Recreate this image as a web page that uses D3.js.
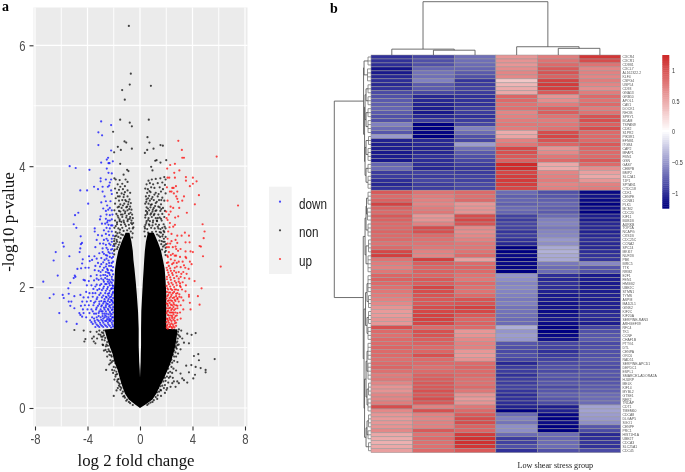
<!DOCTYPE html>
<html><head><meta charset="utf-8">
<script src="https://cdnjs.cloudflare.com/ajax/libs/d3/7.8.5/d3.min.js"></script>
<style>html,body{margin:0;background:#fff}svg{display:block;filter:blur(0.4px)}</style>
</head><body><svg id="c" width="685" height="472"></svg>
<script>
// ---------- panel a data: [log2 fold change, -log10 p]
const xTicks=[-8,-4,0,4,8], xMinor=[-6,-2,2,6], yTicks=[0,2,4,6], yMinor=[1,3,5];
const legendLabels=["down","non","up"];
// silhouette of the solid black cloud
const massY=[0,.06,.14,.24,.36,.5,.63,.76,.9,1.04,1.18,1.3,1.31,1.6,1.9,2.1,2.3,2.45,2.6,2.75,2.9];
const massLeftOuter=[0,-.4,-.85,-1.15,-1.35,-1.55,-1.7,-1.95,-2.1,-2.35,-2.55,-2.7,-2.0,-2.0,-2.0,-1.95,-1.9,-1.8,-1.65,-1.4,-1.1];
const massLeftInner=[0,0,0,0,0,0,-.02,-.06,-.08,-.1,-.1,-.1,-.1,-.15,-.25,-.33,-.42,-.5,-.55,-.65,-.8];
const massRightOuter=[0,.45,.95,1.25,1.5,1.85,2.1,2.35,2.55,2.7,2.8,2.85,2.0,2.0,2.0,1.95,1.88,1.75,1.6,1.35,1.05];
const massRightInner=[0,0,0,0,0,0,.02,.05,.06,.08,.08,.08,.08,.1,.17,.22,.28,.32,.37,.45,.6];
const downPoints=[[-2.96,4.74],[-2.2,4.68],[-3.17,4.56],[-2.89,4.51],[-3.17,4.35],[-2.2,4.26],[-2.43,4.14],[-2.53,4.11],[-2.96,4.06],[-2.4,4.05],[-2.32,4.05],[-2.07,4.08],[-5.36,4.0],[-4.9,3.97],[-3.85,3.94],[-2.53,3.96],[-2.4,3.89],[-2.15,3.88],[-3.0,3.8],[-3.0,3.75],[-2.6,3.78],[-2.2,3.78],[-2.3,3.73],[-2.45,3.66],[-2.35,3.68],[-3.5,3.66],[-3.2,3.62],[-4.55,3.6],[-4.03,3.6],[-2.85,3.66],[-2.85,3.58],[-2.2,3.6],[-2.15,3.54],[-2.7,3.5],[-3.95,3.38],[-2.95,3.4],[-2.6,3.42],[-2.25,3.42],[-2.5,3.35],[-2.3,3.31],[-2.8,3.3],[-2.42,3.28],[-2.15,3.27],[-2.6,3.26],[-4.7,3.23],[-4.95,3.19],[-2.55,3.2],[-2.3,3.19],[-2.1,3.2],[-3.0,3.17],[-3.05,3.12],[-2.6,3.13],[-2.45,3.1],[-2.3,3.1],[-2.15,3.12],[-5.05,3.04],[-4.85,2.98],[-3.45,2.97],[-3.45,2.92],[-2.9,3.05],[-2.65,3.05],[-2.4,3.03],[-2.1,3.02],[-2.55,2.98],[-2.3,2.97],[-2.75,2.94],[-2.15,2.92],[-4.52,2.84],[-5.89,2.73],[-5.81,2.67],[-4.42,2.73],[-4.5,2.71],[-4.55,2.64],[-4.6,2.58],[-3.2,2.86],[-2.9,2.85],[-2.6,2.88],[-2.35,2.86],[-3.3,2.78],[-2.75,2.78],[-2.45,2.77],[-2.15,2.8],[-3.05,2.72],[-2.6,2.7],[-2.25,2.7],[-3.4,2.66],[-2.85,2.64],[-2.45,2.62],[-2.1,2.63],[-6.42,2.58],[-6.58,2.44],[-5.38,2.51],[-4.36,2.46],[-4.41,2.39],[-3.88,2.51],[-3.65,2.45],[-3.83,2.43],[-3.47,2.51],[-3.1,2.56],[-2.75,2.55],[-2.3,2.56],[-3.3,2.47],[-2.95,2.48],[-2.55,2.47],[-2.15,2.48],[-3.2,2.4],[-2.8,2.41],[-2.35,2.4],[-3.4,2.35],[-3.05,2.34],[-2.6,2.34],[-2.2,2.35],[-4.77,2.3],[-4.49,2.31],[-4.16,2.32],[-3.91,2.32],[-3.45,2.28],[-3.15,2.27],[-2.85,2.28],[-2.45,2.28],[-2.1,2.27],[-6.27,2.19],[-7.37,2.09],[-4.97,2.19],[-5.05,2.15],[-4.92,2.17],[-4.3,2.12],[-4.2,2.11],[-3.75,2.18],[-3.3,2.2],[-3.0,2.19],[-2.65,2.2],[-2.3,2.2],[-3.9,2.1],[-3.5,2.11],[-3.15,2.12],[-2.8,2.12],[-2.5,2.13],[-2.15,2.13],[-5.31,2.07],[-5.46,1.98],[-4.05,2.03],[-3.7,2.03],[-3.3,2.04],[-2.95,2.05],[-2.65,2.05],[-2.35,2.06],[-2.1,2.03],[-3.55,1.97],[-3.1,1.97],[-2.8,1.98],[-2.5,1.97],[-2.2,1.97],[-6.58,1.88],[-6.88,1.82],[-5.89,1.87],[-5.81,1.82],[-5.43,1.89],[-4.54,1.87],[-5,1.85],[-4.1,1.92],[-3.85,1.9],[-3.4,1.9],[-3.0,1.9],[-2.65,1.9],[-2.35,1.9],[-2.08,1.9],[-4.3,1.83],[-3.95,1.83],[-3.6,1.84],[-3.25,1.83],[-2.9,1.83],[-2.55,1.83],[-2.2,1.84],[-5.43,1.76],[-5.23,1.76],[-4.4,1.76],[-4.05,1.76],[-3.75,1.77],[-3.4,1.76],[-3.1,1.76],[-2.75,1.76],[-2.45,1.77],[-2.1,1.76],[-5.31,1.69],[-5,1.65],[-4.5,1.69],[-4.2,1.7],[-3.9,1.7],[-3.55,1.7],[-3.2,1.69],[-2.9,1.7],[-2.6,1.7],[-2.3,1.7],[-4.35,1.63],[-4.0,1.63],[-3.7,1.63],[-3.35,1.63],[-3.0,1.63],[-2.7,1.63],[-2.4,1.62],[-2.1,1.63],[-6.15,1.57],[-4.62,1.57],[-4.54,1.54],[-4.41,1.51],[-4.3,1.57],[-3.85,1.57],[-3.5,1.56],[-3.15,1.57],[-2.85,1.56],[-2.55,1.56],[-2.25,1.56],[-4.1,1.5],[-3.65,1.5],[-3.3,1.5],[-3.0,1.5],[-2.7,1.5],[-2.4,1.5],[-2.12,1.5],[-3.8,1.45],[-3.45,1.44],[-3.15,1.44],[-2.85,1.44],[-2.55,1.44],[-2.25,1.44],[-5.6,1.43],[-3.6,1.39],[-3.3,1.38],[-3.0,1.38],[-2.7,1.38],[-2.4,1.38],[-2.1,1.38],[-4.82,1.39],[-3.4,1.34],[-3.1,1.34],[-2.8,1.34],[-2.5,1.34],[-2.2,1.33],[-3.7,1.42],[-2.35,1.47],[-2.65,1.53],[-2.95,1.6],[-2.25,1.66],[-2.55,1.73],[-2.2,1.79],[-2.4,1.86],[-2.05,1.98],[-2.25,2.09],[-2.45,2.24],[-2.05,2.42],[-2.5,2.52]];
const downDense=[[-2.05,1.35],[-2.3,1.36],[-2.6,1.36],[-2.9,1.36],[-3.2,1.36],[-2.15,1.41],[-2.45,1.41],[-2.8,1.41],[-3.05,1.41],[-3.4,1.41],[-2.05,1.44],[-2.35,1.44],[-2.65,1.44],[-2.95,1.46],[-3.25,1.46],[-2.2,1.47],[-2.5,1.47],[-2.8,1.48],[-3.5,1.48],[-2.05,1.5],[-2.25,1.52],[-2.55,1.51],[-2.85,1.52],[-3.15,1.52],[-2.15,1.55],[-2.4,1.55],[-2.7,1.56],[-3.35,1.56],[-2.05,1.58],[-2.3,1.59],[-2.6,1.6],[-2.85,1.6],[-3.1,1.6],[-3.6,1.6],[-2.15,1.62],[-2.45,1.64],[-2.75,1.66],[-3.3,1.66],[-2.05,1.67],[-2.35,1.68],[-2.6,1.67],[-2.95,1.68],[-2.15,1.71],[-2.45,1.72],[-2.8,1.73],[-3.1,1.72],[-3.5,1.74],[-2.05,1.74],[-2.3,1.75],[-2.65,1.76],[-2.95,1.77],[-2.15,1.78],[-2.4,1.8],[-2.7,1.8],[-3.3,1.8],[-2.05,1.82],[-2.3,1.83],[-2.6,1.84],[-2.8,1.86],[-3.1,1.87],[-2.15,1.87],[-2.45,1.89],[-3.6,1.9],[-2.05,1.92],[-2.3,1.94],[-2.6,1.94],[-2.9,1.95],[-3.25,1.95],[-2.15,1.98],[-2.45,2.0],[-2.75,2.01],[-2.05,2.02],[-2.3,2.03],[-2.55,2.05],[-3.05,2.03],[-3.4,2.01],[-2.15,2.07],[-2.45,2.09],[-2.75,2.09],[-2.05,2.11],[-2.35,2.12],[-2.65,2.15],[-2.95,2.14],[-2.15,2.17],[-2.5,2.18],[-2.8,2.2],[-3.3,2.14],[-2.05,2.21],[-2.35,2.23],[-2.6,2.25],[-3.0,2.25],[-2.2,2.28],[-2.5,2.3],[-2.75,2.32],[-2.05,2.33],[-2.35,2.35],[-2.55,2.38],[-2.95,2.38],[-2.15,2.4],[-2.4,2.44],[-2.7,2.45],[-2.05,2.5],[-2.3,2.5],[-2.6,2.53],[-2.1,2.56],[-2.4,2.58],[-2.85,2.58],[-2.2,2.62],[-2.55,2.65],[-2.05,2.68],[-2.35,2.72],[-2.8,2.72],[-2.15,2.75],[-2.55,2.8],[-2.05,2.85],[-2.4,2.92],[-2.2,3.02],[-2.5,3.07]];
const upPoints=[[2.92,4.42],[3.19,4.27],[3.22,4.14],[3.35,4.14],[5.84,4.16],[2.3,4.02],[2.66,4.04],[2.07,3.96],[3.0,3.93],[2.61,3.89],[2.1,3.81],[2.23,3.81],[2.66,3.81],[3.5,3.82],[3.5,3.76],[4.03,3.81],[4.31,3.75],[4.03,3.71],[3.8,3.67],[2.74,3.67],[2.46,3.64],[2.56,3.64],[2.05,3.65],[2.28,3.58],[2.4,3.58],[2.58,3.55],[2.84,3.58],[4.49,3.52],[3.35,3.5],[2.76,3.5],[2.84,3.46],[2.91,3.41],[3.22,3.43],[2.1,3.43],[4.18,3.37],[7.47,3.35],[2.33,3.33],[2.53,3.31],[2.99,3.31],[2.0,3.25],[2.33,3.25],[3.57,3.23],[2.68,3.15],[2.91,3.17],[2.2,3.2],[2.02,3.14],[2.1,3.11],[2.28,3.06],[4.77,3.04],[2.53,3.0],[2.66,3.03],[2.25,2.99],[4.92,2.92],[4.85,2.81],[3.42,2.9],[2.84,2.85],[3.17,2.85],[3.73,2.85],[2.71,2.78],[3.47,2.74],[3.78,2.74],[2.84,2.73],[2.71,2.67],[2.76,2.63],[3.09,2.63],[4.54,2.68],[4.64,2.67],[3.47,2.59],[3.85,2.59],[4.03,2.58],[4.8,2.51],[3.47,2.5],[3.52,2.48],[3.8,2.42],[3.93,2.38],[6.15,2.34],[2.15,2.92],[2.4,2.88],[2.1,2.8],[2.3,2.72],[2.05,2.66],[2.2,2.58],[2.5,2.55],[2.75,2.52],[3.05,2.5],[2.12,2.5],[2.35,2.46],[2.65,2.44],[2.95,2.42],[3.25,2.42],[2.05,2.4],[2.45,2.38],[2.2,2.35],[2.8,2.34],[3.1,2.33],[3.45,2.32],[3.7,2.3],[2.08,2.28],[2.35,2.27],[2.6,2.27],[2.95,2.25],[3.3,2.25],[3.55,2.22],[2.2,2.2],[2.5,2.2],[2.8,2.18],[3.1,2.17],[3.4,2.15],[3.75,2.14],[2.05,2.13],[2.35,2.12],[2.65,2.1],[2.95,2.09],[3.25,2.08],[4.16,2.1],[2.2,2.05],[2.5,2.04],[2.8,2.03],[3.05,2.02],[3.5,2.03],[2.08,1.98],[2.35,1.97],[2.65,1.96],[2.9,1.95],[3.2,1.96],[3.47,1.93],[4.69,1.98],[2.2,1.91],[2.5,1.9],[2.75,1.89],[3.0,1.88],[2.08,1.85],[2.35,1.84],[2.6,1.83],[2.85,1.82],[3.15,1.83],[3.73,1.87],[3.73,1.84],[4.41,1.85],[2.2,1.78],[2.45,1.77],[2.7,1.77],[2.95,1.76],[3.3,1.78],[3.8,1.74],[4.54,1.71],[2.1,1.72],[2.35,1.71],[2.6,1.71],[2.85,1.69],[3.1,1.7],[2.2,1.65],[2.45,1.64],[2.7,1.64],[3.85,1.63],[3.3,1.63],[2.08,1.6],[2.35,1.58],[2.55,1.58],[2.85,1.57],[3.05,1.58],[2.2,1.53],[2.45,1.52],[2.7,1.52],[2.1,1.47],[2.3,1.46],[2.55,1.46],[2.85,1.46],[3.1,1.48],[2.2,1.41],[2.4,1.4],[2.65,1.4],[2.05,1.36],[2.3,1.35],[2.55,1.35],[2.75,1.36],[2.12,1.31],[2.45,1.32]];
const upDense=[[2.03,1.33],[2.22,1.34],[2.4,1.34],[2.62,1.33],[2.1,1.38],[2.3,1.38],[2.5,1.38],[2.75,1.41],[2.02,1.42],[2.15,1.44],[2.4,1.44],[2.65,1.44],[2.05,1.48],[2.25,1.49],[2.45,1.49],[2.62,1.49],[2.35,1.53],[2.12,1.54],[2.55,1.55],[2.8,1.53],[2.03,1.57],[2.25,1.58],[2.45,1.58],[2.7,1.58],[2.15,1.61],[2.38,1.62],[2.6,1.62],[2.05,1.65],[2.3,1.66],[2.55,1.67],[2.85,1.65],[2.13,1.69],[2.45,1.7],[2.75,1.7],[2.03,1.73],[2.25,1.74],[2.55,1.74],[2.12,1.77],[2.35,1.78],[2.65,1.79],[2.85,1.8],[2.03,1.81],[2.25,1.82],[2.5,1.82],[2.15,1.87],[2.4,1.87],[2.75,1.85],[3.0,1.84],[2.05,1.92],[2.3,1.91],[2.6,1.92],[2.85,1.9],[2.15,1.96],[2.45,1.95],[2.75,1.96],[2.03,2.02],[2.3,2.01],[2.6,2.0],[3.1,2.0],[2.15,2.08],[2.4,2.07],[2.75,2.07],[3.05,2.06],[2.05,2.17],[2.3,2.16],[2.6,2.15],[2.95,2.14],[2.15,2.24],[2.45,2.23],[2.75,2.24],[3.15,2.22],[2.03,2.32],[2.3,2.31],[2.65,2.32],[3.35,2.36],[2.15,2.41],[2.55,2.4],[2.8,2.4],[2.08,2.52],[2.35,2.53],[2.65,2.52],[2.2,2.66],[2.5,2.66],[2.1,2.72],[2.4,2.76],[2.9,2.6]];
const nonUpper=[[-.85,6.32],[-.7,5.53],[-.78,5.35],[.83,5.33],[-1.36,5.26],[-1.16,5.1],[-1.51,4.77],[.67,4.77],[-.78,4.72],[-.62,4.66],[-2.05,4.57],[.57,4.48],[-1.18,4.41],[-1.05,4.39],[.72,4.39],[-1.69,4.32],[-1.46,4.27],[-.62,4.29],[-1.97,4.23],[.37,4.22],[.55,4.27],[1.03,4.29],[1.56,4.35],[1.74,4.34],[1.16,4.09],[1.26,4.1],[1.56,4.06],[2.0,4.1],[-1.51,4.04],[.85,3.99],[.95,3.93],[-.98,3.94],[-.88,3.92],[-1.25,3.86],[-1.95,3.8],[-1.85,3.78],[-1.55,3.77],[-1.1,3.78],[-.95,3.74],[.65,3.76],[.9,3.78],[1.2,3.79],[1.55,3.8],[1.85,3.82],[1.95,3.78],[-1.7,3.7],[-1.35,3.71],[-1.5,3.66],[-1.15,3.67],[.5,3.7],[.75,3.72],[1.0,3.7],[1.35,3.72],[1.7,3.73],[1.9,3.69],[-1.9,3.63],[-1.6,3.61],[-1.3,3.62],[-.95,3.6],[.4,3.63],[.6,3.62],[.85,3.65],[1.1,3.64],[1.5,3.65],[1.75,3.62],[-1.75,3.56],[-1.4,3.55],[-1.15,3.57],[-.75,3.56],[.55,3.56],[.8,3.57],[1.2,3.56],[1.6,3.58],[1.95,3.55],[-1.55,3.5],[-1.85,3.47],[-1.25,3.49],[-.95,3.5],[.45,3.5],[.7,3.51],[.95,3.49],[1.35,3.5],[1.7,3.48],[-1.6,3.43],[-1.35,3.44],[-1.05,3.42],[-.8,3.45],[.5,3.45],[.75,3.43],[1.05,3.44],[1.45,3.44],[1.85,3.43],[-1.9,3.38],[-1.5,3.37],[-1.2,3.38],[-.9,3.37],[-.7,3.39],[.4,3.38],[.65,3.38],[.9,3.37],[1.2,3.39],[1.6,3.37],[-1.7,3.32],[-1.4,3.31],[-1.05,3.32],[-.75,3.33],[.5,3.32],[.8,3.32],[1.05,3.31],[1.4,3.33],[1.75,3.31],[-1.95,3.27],[-1.6,3.26],[-1.25,3.27],[-.95,3.27],[-.65,3.28],[.45,3.26],[.7,3.27],[.95,3.25],[1.25,3.27],[1.55,3.26],[1.9,3.26],[-1.8,3.21],[-1.45,3.2],[-1.15,3.22],[-.85,3.21],[-.6,3.2],[.55,3.21],[.8,3.2],[1.1,3.21],[1.4,3.2],[1.7,3.21],[-1.65,3.15],[-1.35,3.16],[-1.05,3.15],[-.75,3.16],[-.55,3.14],[.4,3.15],[.65,3.14],[.9,3.16],[1.2,3.14],[1.5,3.15],[1.85,3.16],[-1.9,3.1],[-1.55,3.09],[-1.25,3.1],[-.95,3.09],[-.65,3.1],[.5,3.09],[.75,3.09],[1.0,3.1],[1.3,3.09],[1.65,3.1],[-1.75,3.04],[-1.45,3.03],[-1.15,3.04],[-.85,3.03],[-.6,3.04],[.42,3.03],[.68,3.04],[.95,3.02],[1.2,3.04],[1.45,3.03],[1.8,3.04],[-1.95,2.98],[-1.65,2.97],[-1.35,2.98],[-.55,2.97],[.38,2.97],[1.4,2.97],[1.7,2.98],[1.95,2.97],[-1.85,2.91],[-1.55,2.9],[-1.9,2.84],[-1.65,2.83],[1.6,2.9],[1.85,2.91],[1.7,2.84],[1.95,2.83],[-1.97,2.76],[-1.75,2.75],[1.65,2.76],[1.88,2.75],[-1.95,2.68],[-1.7,2.66],[1.75,2.67],[1.95,2.65],[-1.98,2.6],[1.97,2.6]];
const nonUpperDense=[[-1.22,3.53],[.72,3.59],[1.42,3.54],[-1.68,3.5],[.62,3.47],[1.1,3.53],[-1.12,3.44],[-.88,3.41],[.88,3.46],[1.28,3.41],[1.62,3.44],[-1.3,3.35],[-.98,3.33],[.48,3.41],[.82,3.36],[1.15,3.34],[-1.6,3.33],[-.82,3.29],[.6,3.3],[.98,3.28],[1.5,3.32],[-1.5,3.25],[-1.12,3.25],[-.72,3.23],[.55,3.24],[.85,3.22],[1.18,3.26],[1.62,3.29],[-1.7,3.18],[-1.33,3.2],[-1.02,3.18],[-.78,3.13],[.42,3.19],[.62,3.11],[1.05,3.19],[1.35,3.14],[-1.55,3.12],[-1.22,3.07],[-.92,3.12],[-.68,3.06],[.48,3.06],[.72,3.02],[.98,3.07],[1.28,3.1],[1.6,3.13],[-1.75,3.07],[-1.42,3.08],[-1.08,3.01],[-.82,2.97],[-.52,3.06],[.55,2.96],[.85,2.98],[1.12,2.97],[1.35,3.0],[1.56,2.96],[-1.85,3.01],[-1.52,2.95],[-1.25,2.93],[-.98,2.94],[-.7,2.92],[-.5,2.99],[.35,3.0],[.62,2.9],[.92,2.91],[1.22,2.92],[1.5,2.91],[1.88,3.0],[-1.72,2.89],[-1.42,2.87],[-1.3,2.86],[-.56,2.89],[.34,2.92],[1.3,2.87],[1.42,2.85],[1.8,2.93],[-1.8,2.85],[-1.48,2.81],[-.6,2.82],[.38,2.84],[1.53,2.83],[1.75,2.87],[-1.95,2.8],[-1.78,2.78],[-1.55,2.74],[1.48,2.77],[1.82,2.8],[-1.85,2.72],[-1.62,2.7],[1.62,2.71],[1.78,2.75],[-1.98,2.71],[-1.75,2.63],[1.68,2.62],[1.86,2.69],[-1.92,2.62],[1.98,2.71],[1.9,2.58],[-1.97,2.54],[1.95,2.53]];
const nonLower=[[-5.0,1.29],[-4.29,1.28],[-3.78,1.26],[-4.16,1.14],[-4.24,1.1],[-3.52,1.18],[-3.4,1.07],[-3.52,1.1],[-3.65,1.15],[-3.27,1.15],[-3.02,1.21],[-2.89,1.13],[-2.81,1.04],[-2.63,.96],[-2.51,.93],[-2.33,.88],[-2.25,.79],[-2.58,.63],[-2.25,.74],[-2.0,.68],[-1.87,.74],[-2.12,.63],[-1.87,.52],[-1.74,.44],[-1.69,.33],[-2.0,.2],[-1.79,.29],[-1.49,.3],[-1.36,.41],[-3.3,1.26],[-3.1,1.28],[-2.9,1.25],[-2.95,1.18],[-2.75,1.2],[-3.15,1.22],[-2.85,1.05],[-2.7,1.12],[-2.6,1.02],[-2.75,.95],[-2.4,.97],[-2.5,.85],[-2.15,.85],[-2.35,.72],[-2.05,.58],[-1.95,.47],[-1.65,.42],[2.96,1.3],[3.14,1.28],[3.6,1.23],[3.93,1.21],[4.24,1.24],[3.22,1.15],[3.35,1.08],[3.73,1.07],[2.84,1.1],[2.71,1.02],[3.09,.97],[4.11,.86],[4.44,.89],[4.49,.79],[3.91,.71],[4.24,.68],[3.52,.7],[5.69,.81],[4.62,.66],[5.0,.63],[5.0,.59],[3.09,.57],[3.73,.59],[4.19,.55],[4.06,.49],[3.22,.49],[3.35,.46],[2.84,.44],[2.58,.44],[2.46,.41],[3.6,.42],[2.07,.33],[2.33,.35],[2.02,.3],[2.71,.35],[2.96,.41],[1.31,.15],[1.56,.3],[1.82,.33],[2.85,1.22],[3.05,1.18],[2.95,1.05],[2.8,.98],[2.9,.9],[2.75,.85],[2.6,.78],[2.85,.76],[2.55,.65],[2.45,.58],[2.75,.62],[2.3,.52],[2.15,.42],[2.5,.5],[1.9,.25],[1.6,.2]];
const nonFringe=[[-2.05,1.27],[-2.3,1.28],[-2.55,1.27],[-2.75,1.28],[-2.8,1.24],[-2.65,1.16],[-2.85,1.18],[-2.5,1.09],[-2.45,1.03],[-2.55,1.05],[-2.25,.93],[-2.35,.94],[-2.2,.87],[-2.05,.78],[-2.15,.76],[-1.85,.67],[-1.95,.62],[-1.8,.6],[-1.75,.56],[-1.85,.55],[-1.62,.48],[-1.7,.47],[-1.55,.4],[-1.6,.37],[-1.42,.33],[-1.5,.35],[-1.3,.27],[-1.38,.24],[-1.2,.2],[-1.15,.17],[-1.28,.19],[-.98,.14],[-1.05,.12],[-.75,.08],[-.85,.1],[-.55,.05],[.55,.05],[.65,.07],[.8,.09],[.95,.1],[1.05,.13],[1.2,.18],[1.35,.21],[1.3,.26],[1.45,.27],[1.6,.29],[1.4,.33],[1.55,.36],[1.7,.37],[1.9,.38],[1.62,.42],[1.78,.44],[1.95,.45],[1.9,.5],[2.05,.52],[2.2,.5],[2.15,.58],[2.3,.6],[2.15,.65],[2.4,.68],[2.25,.72],[2.45,.75],[2.4,.8],[2.6,.85],[2.5,.88],[2.7,.92],[2.6,.95],[2.75,1.0],[2.85,1.04],[2.78,1.08],[2.88,1.15],[2.95,1.2],[2.9,1.26],[2.75,1.28],[2.6,1.29],[2.4,1.28],[2.2,1.29],[2.05,1.27]];
// ---------- panel b data
const heatRows=[[-1,-.9,-.7,.6,.75,1.15],[-1,-.85,-.7,.62,.8,1.02],[-1.02,-.85,-.72,.6,.85,.8],[-1.15,-.75,-.75,.65,.95,.7],[-1.12,-.68,-.8,.7,.98,.72],[-1.05,-.7,-.85,.68,.9,.7],[-1.02,-.62,-.98,.32,1.08,.75],[-1.05,-.8,-.95,.42,1.12,.7],[-1,-.8,-.92,.48,1.1,.65],[-.88,-.9,-.95,.5,.95,.75],[-.85,-1.05,-1,.88,.62,.85],[-.8,-1.05,-1,.85,.65,.8],[-.78,-1.08,-1,.8,.75,.85],[-.75,-1.1,-.95,.82,.9,.75],[-.8,-1.12,-.95,.7,.92,.8],[-.85,-1.05,-1,.72,.8,.98],[-.85,-.95,-.95,.75,.75,1],[-.62,-1.24,-.9,.78,.78,.9],[-.72,-1.24,-.62,.75,.8,1.02],[-.82,-1.22,-.72,.48,1.02,.85],[-.5,-1.24,-.85,.52,1.05,.85],[-1.08,-1.05,-.9,.72,.98,.85],[-1.1,-1.05,-.48,.78,.88,.95],[-1.1,-1.08,-.7,1.05,.62,.88],[-1.12,-1.05,-.8,1,.68,.85],[-1.1,-1,-.85,.95,.78,.85],[-1.12,-1.02,-.9,.9,.85,.95],[-.75,-1.02,-.95,1.22,.5,.85],[-.72,-1.05,-.98,1.2,.48,.65],[-.95,-.92,-.95,1.05,.7,.55],[-.95,-.95,-.92,1.1,.72,.5],[-1.02,-.9,-.92,1.12,.75,.6],[-1.05,-.95,-.88,1.1,.7,.72],[-1,-.95,-.9,1.05,.72,.75],
[.95,.8,.85,-.72,-.85,-1.2],[.85,.75,.82,-.78,-.82,-1.15],[.9,.72,.85,-.75,-.78,-1.2],[1.08,.7,.6,-.78,-.75,-1.24],[.9,.75,.62,-.72,-.78,-1.18],[.85,.78,.62,-.75,-.8,-1.24],[.95,.6,1.02,-.92,-.72,-1.1],[.9,.62,1.05,-.95,-.62,-1.12],[.85,.72,.98,-.9,-.6,-1.05],[.85,1.02,.68,-.92,-.65,-1.05],[.88,1,.65,-.98,-.6,-1.08],[.85,.85,.68,-.95,-.58,-1.05],[.85,.82,.72,-1,-.5,-1.02],[.8,.8,.78,-1.05,-.55,-1.05],[.85,.78,.78,-1.24,-.42,-1.05],[1.05,.72,.8,-1.24,-.38,-1.02],[1.1,.7,.85,-1.2,-.42,-1],[.8,1.1,.55,-1.24,-.42,-.98],[.75,.92,.85,-1.2,-.65,-.58],[.72,.88,.88,-1.22,-.72,-.82],[.78,.9,.85,-1.24,-.72,-.85],[.88,.88,.8,-.52,-1.02,-1.12],[.9,.95,.78,-.55,-1.05,-1.1],[.85,.92,.85,-.6,-1,-1.12],[.82,1.05,.82,-.58,-1.02,-1.1],[.78,1.02,.8,-.6,-1.08,-1.1],[.75,.98,.85,-.62,-1.12,-1.08],[.72,.95,.98,-.65,-1.12,-1.1],[.68,.95,.98,-.62,-1.15,-1.08],[.62,1.02,1.08,-.68,-1.15,-1.08],[.58,1.05,1.05,-.68,-1.18,-1.05],[.58,1.08,.95,-.7,-1.15,-1.02],[.62,1.08,.88,-.72,-1.12,-1.05],[.6,1.05,.9,-.72,-1.18,-1.1],[1,.85,.85,-.4,-1.22,-.92],[.85,1,.6,-.52,-1.24,-.85],[.82,.98,.62,-.48,-1.2,-.82],[.85,.92,.68,-.5,-1.15,-.8],[.85,.9,.72,-.82,-.9,-.88],[.88,.85,.72,-.85,-.92,-.85],[.85,.88,.6,-.88,-1,-.85],[.85,1,.58,-.85,-.95,-.85],[.82,.85,.62,-.9,-.92,-.82],[.85,.85,.85,-1.05,-.88,-.85],[.88,.82,.88,-.95,-.85,-.88],[.82,.85,.85,-.95,-.88,-.82],[.75,.9,.85,-1,-.82,-.82],[.78,.92,.82,-.95,-.85,-.85],[.7,.95,.82,-.95,-.82,-.82],[.62,.95,.85,-.92,-.88,-.8],[.62,1,.78,-.98,-.82,-.78],[.7,.95,.62,-1.02,-.78,-.72],[.7,1.02,.58,-1,-.82,-.72],[.75,.95,.62,-1.02,-.88,-.72],[1.02,.72,.78,-1.08,-1.1,-.45],[.68,1,.85,-1.24,-1.08,-.45],[.6,.72,.95,-.72,-1.22,-.48],[.58,.7,1.02,-.62,-1.24,-.5],[.6,.72,1.02,-.68,-1.18,-.55],[.62,.72,.9,-.55,-1.24,-.82],[.68,.95,.88,-.55,-1.24,-.88],[.5,.8,1.12,-.72,-.72,-1.05],[.48,.85,1.18,-.95,-.75,-1.02],[.45,.82,1.18,-.92,-.72,-.98],[.5,.82,1.15,-.85,-.72,-1],[.55,.85,.95,-1,-.85,-.88]];
const geneLabels=["CXCR4","CXCR1","CD9B1","CXCL7","AL162322.2","KLF4","CSPG4","USP54","CD93","GNA13","GRB10","APOL1","CAV1","DOCK1","RHOB","SPRY1","BCAM","TSPAN9","CD82","S1PR2","PIK3R1","EFNB1","ITGB4","CAP2","MFAP1","FBN1","GSN","GAS7","CEBPB","BMP2","SLC2A1","TJP1","SPTAN1","CTDC18","CDK1","CENPE","CCNB1","PLK1","MCM2","CDC20","KIF11","BUB1B","AURKB","TOP2A","NCAPG","CKS1B","CDC25C","CCNA2","SPC24","MKI67","NUF2B","PBK","BIRC5","TTK","RRM2","E2F1","FEN1","HMGB2","UBE2C","STMN1","TYMS","ASPM","MAD2L1","GINS2","KIF2C","KIF20A","SERPINE-RAN3","ARHGEF39","RFC4","TK1","CCNF","CHAF1B","PTTG1","DTL","CENPA","ORC6","RAD51","SERPINE-APCD1","DEPDC1","ESPL1","SMARCE1-ADORA2A","HJURP","MELK","KIF14","MYBL2","GTSE1","NEK2","TRDAP","CDT1","TMEM60","CDCA8","DLGAP5","SGO1","CENPF","PRC1","HIST1H1A","UBE2T","CDCA3","SLC25A1","CDC45"];
// merge heights (node = [height, left, right])
const colTree=[1,[.11,0,[.09,1,2]],[.155,3,[.125,4,5]]];
const rowClusters=[[1,3,3],[4,7,3.5],[8,10,3],[11,13,3],[14,16,3],[17,20,3],[21,23,2.5],[24,27,3],[28,30,3],[31,34,3],[35,38,3],[39,42,3.5],[43,46,3],[47,50,2.5],[51,55,3],[56,60,3],[61,64,2.5],[65,68,2.5],[69,72,3],[73,77,3],[78,82,3],[83,86,2.5],[87,90,3],[91,94,2.5],[95,97,3],[98,100,2.5]];
const rowTree=[37,
 [7.5,[7,0,1],[6.5,[6,[5,2,3],[5,4,5]],[6,[5,6,7],[5,8,9]]]],
 [7.8,[6,[5,[4.5,10,11],12],[5,13,14]],[7,[5.5,[4,15,16],[4,17,18]],[6.5,[5,[4,19,20],[4,21,22]],[5,[4,23,24],25]]]]];
const barTicks=[-1,-.5,0,.5,1], barTickLabels=["\u22121","\u22120.5","0","0.5","1"];

const svg=d3.select("#c");
const narrow=(sel,f)=>sel.each(function(){const w=this.getComputedTextLength();this.setAttribute("textLength",w*f);this.setAttribute("lengthAdjust","spacingAndGlyphs");});
// ================= panel a
const x=d3.scaleLinear().domain([-8,8]).range([35,245]);
const y=d3.scaleLinear().domain([0,6]).range([408,45.3]);
const pL=33.5,pR=247.5,pT=7.5,pB=426.5;
svg.append("rect").attr("x",pL).attr("y",pT).attr("width",pR-pL).attr("height",pB-pT).attr("fill","#EBEBEB");
const grid=svg.append("g").attr("stroke","#fff").attr("fill","none");
[[xMinor,.9,"x"],[xTicks,1.2,"x"],[yMinor,.9,"y"],[yTicks,1.2,"y"]].forEach(([vals,w,k])=>{
 grid.selectAll(null).data(vals).enter().append("line").attr("stroke-width",w)
  .attr("x1",d=>k=="x"?x(d):pL).attr("x2",d=>k=="x"?x(d):pR)
  .attr("y1",d=>k=="x"?pT:y(d)).attr("y2",d=>k=="x"?pB:y(d));
});
const lobe=(outer,inner)=>d3.area().y((d,i)=>y(d)).x0((d,i)=>x(outer[i])).x1((d,i)=>x(inner[i]))(massY);
svg.append("path").attr("d",lobe(massLeftOuter,massLeftInner)).attr("fill","#000");
svg.append("path").attr("d",lobe(massRightOuter,massRightInner)).attr("fill","#000");
function pts(data,col){
 svg.append("g").selectAll("circle").data(data).enter().append("circle")
  .attr("cx",d=>x(d[0])).attr("cy",d=>y(d[1])).attr("r",1.1).attr("fill",col).attr("fill-opacity",.72);
}
[nonUpper,nonUpperDense,nonLower,nonFringe].forEach(d=>pts(d,"#000"));
[downPoints,downDense].forEach(d=>pts(d,"#0000ff"));
[upPoints,upDense].forEach(d=>pts(d,"#ff0000"));
const tickFont='"Liberation Sans",sans-serif';
const ax=svg.append("g").attr("transform",`translate(0,${pB})`).call(d3.axisBottom(x).tickValues(xTicks).tickSize(4).tickPadding(3).tickFormat(d=>String(d)));
const ay=svg.append("g").attr("transform",`translate(${pL},0)`).call(d3.axisLeft(y).tickValues(yTicks).tickSize(4).tickPadding(4).tickFormat(d=>String(d)));
[ax,ay].forEach(a=>{a.select(".domain").remove();a.selectAll("line").attr("stroke","#333").attr("stroke-width",1.1);
 a.selectAll("text").attr("font-family",tickFont).attr("font-size",15).attr("fill","#4D4D4D").call(narrow,.75);});
svg.append("text").attr("x",136).attr("y",466).attr("text-anchor","middle").attr("font-family","Liberation Serif").attr("font-size",16.8).attr("fill","#111").text("log 2 fold change");
svg.append("text").attr("transform","translate(14,222) rotate(-90)").attr("text-anchor","middle").attr("font-family","Liberation Serif").attr("font-size",17).attr("fill","#111").text("-log10 p-value");
svg.append("text").attr("x",2).attr("y",11).attr("font-family","Liberation Serif").attr("font-weight","bold").attr("font-size",14).text("a");
svg.append("text").attr("x",330).attr("y",13).attr("font-family","Liberation Serif").attr("font-weight","bold").attr("font-size",14).text("b");
// legend
const legendCols=["#0000ff","#000","#ff0000"];
const legY=d3.scalePoint().domain(legendLabels).range([201.7,259]);
svg.append("rect").attr("x",269).attr("y",186.7).attr("width",22.7).attr("height",87.3).attr("fill","#F2F2F2");
legendLabels.forEach((l,i)=>{
 svg.append("circle").attr("cx",280).attr("cy",legY(l)).attr("r",1.1).attr("fill",legendCols[i]).attr("fill-opacity",.72);
 svg.append("text").attr("x",299).attr("y",legY(l)+7).attr("font-family",tickFont).attr("font-size",15).attr("fill","#222").text(l).call(narrow,.78);
});
// ================= panel b
const color=d3.scaleLinear().domain([-1.24,0,1.24]).range(["#000080","#ffffff","#CD2626"]);
const hx=d3.scaleBand().domain(d3.range(6)).range([371,620.7]);
const hy=d3.scaleBand().domain(d3.range(heatRows.length)).range([55,452.7]);
const rows=svg.append("g").selectAll("g").data(heatRows).enter().append("g").attr("transform",(d,i)=>`translate(0,${hy(i)})`);
rows.selectAll("rect").data(d=>d).enter().append("rect")
 .attr("x",(d,i)=>hx(i)).attr("width",hx.bandwidth()).attr("height",hy.bandwidth())
 .attr("fill",d=>color(d)).attr("stroke","#999").attr("stroke-width",.5);
svg.append("g").selectAll("text").data(geneLabels).enter().append("text")
 .attr("x",622.5).attr("y",(d,i)=>hy(i)+hy.bandwidth()/2+1.5).attr("font-family","Liberation Sans").attr("font-size",4.3).attr("fill","#555").text(d=>d).call(narrow,.8);
// column dendrogram
const colH=d3.scaleLinear().domain([0,1]).range([55,1.7]);
const dend=svg.append("g").attr("fill","none").attr("stroke","#4a4a4a").attr("stroke-width",.8);
function colNode(n){
 if(typeof n==="number") return {p:hx(n)+hx.bandwidth()/2,h:0};
 const a=colNode(n[1]),b=colNode(n[2]);
 dend.append("path").attr("d",d3.line()([[a.p,colH(a.h)],[a.p,colH(n[0])],[b.p,colH(n[0])],[b.p,colH(b.h)]]));
 return {p:(a.p+b.p)/2,h:n[0]};
}
colNode(colTree);
// row dendrogram
const rowH=d3.scaleLinear().domain([0,37]).range([371,334.3]);
const rowC=i=>hy(i-1)+hy.bandwidth()/2;
function rowNode(n){
 if(typeof n==="number"){
  const [s,e,h]=rowClusters[n];
  const ys=d3.range(s,e+1).map(rowC);
  dend.append("path").attr("stroke","#777").attr("d",d3.line()([[rowH(h),ys[0]],[rowH(h),ys[ys.length-1]]]));
  ys.forEach(v=>dend.append("path").attr("stroke","#777").attr("d",d3.line()([[rowH(h),v],[rowH(0),v]])));
  return {p:d3.mean([ys[0],ys[ys.length-1]]),h};
 }
 const a=rowNode(n[1]),b=rowNode(n[2]);
 dend.append("path").attr("d",d3.line()([[rowH(a.h),a.p],[rowH(n[0]),a.p],[rowH(n[0]),b.p],[rowH(b.h),b.p]]));
 return {p:(a.p+b.p)/2,h:n[0]};
}
rowNode(rowTree);
// colour bar
const barY=d3.scaleLinear().domain([-1.24,1.24]).range([208.3,55]);
const barSteps=d3.range(-1.24,1.24,.031);
svg.append("g").selectAll("rect").data(barSteps).enter().append("rect").attr("x",662.3).attr("width",7).attr("y",d=>barY(d+.031)).attr("height",d=>barY(d)-barY(d+.031)+.4).attr("fill",d=>color(d));
svg.append("g").selectAll("text").data(barTicks).enter().append("text").attr("x",672).attr("y",d=>barY(d)+2.8).attr("font-family","Liberation Sans").attr("font-size",7.6).attr("fill","#333").text((d,i)=>barTickLabels[i]).call(narrow,.72);
svg.append("text").attr("x",517.5).attr("y",468).attr("font-family","Liberation Serif").attr("font-size",8.2).attr("fill","#222").text("Low shear stress group");
</script></body></html>
